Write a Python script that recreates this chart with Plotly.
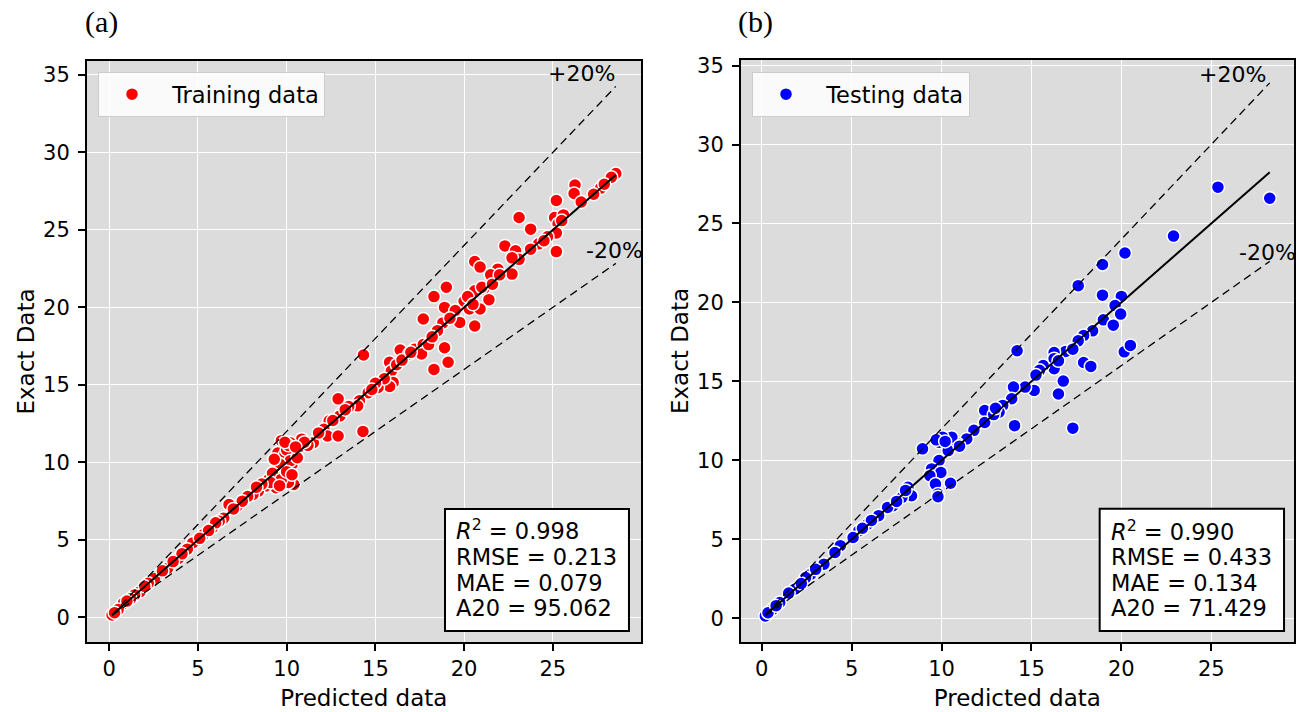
import plotly.graph_objects as go

# ---------------- data ----------------
train_pred = [28.55, 28.3, 27.7, 27.9, 26.25, 26.2, 25.2, 25.1, 25.6, 25.3, 25.2, 25.2, 23.1, 23.75,
              24.7, 24.2, 23.75, 22.3, 22.9, 23.1, 22.7, 22.7, 21.9, 21.5, 20.6, 20.9, 19.0, 18.3,
              20.0, 20.3, 20.6, 21.1, 21.4, 20.9, 17.7, 18.9, 19.45, 19.75, 20.6, 18.8, 18.5, 18.9,
              16.4, 17.2, 17.7, 14.33, 16.9, 17.6, 18.0, 18.3, 19.1, 15.8, 15.9, 16.0, 15.8, 15.15,
              14.6, 14.1, 14.0, 12.9, 13.1, 13.0, 12.4, 12.1, 12.3, 12.9, 14.3, 11.5, 10.85, 10.65,
              10.2, 9.7, 9.5, 9.9, 10.4, 10.3, 9.8, 9.4, 9.8, 10.4, 10.1, 9.4, 9.0, 8.8, 8.4, 8.1,
              7.8, 7.2, 6.75, 6.45, 5.8, 5.3, 4.9, 4.7, 3.9, 3.3, 2.66, 2.55, 1.74, 1.43, 0.8, 0.16,
              19.5, 19.2, 20.2, 20.5, 16.2, 16.5, 15.5, 15.0, 14.8, 13.5, 13.3, 11.8, 11.2, 11.0,
              10.0, 10.2, 9.6, 9.2, 9.7, 10.0, 9.1, 8.6, 8.3, 7.5, 7.0, 6.2, 6.0, 5.6, 5.1, 4.4,
              4.1, 3.6, 3.0, 2.2, 2.0, 1.2, 1.0, 0.5, 0.3, 17.0, 18.2, 21.0, 21.6, 22.0, 24.5, 25.5,
              26.6, 27.3, 12.6, 10.6, 9.3, 10.1, 9.9, 10.5, 9.6, 10.3]
train_exact = [28.64, 28.4, 27.7, 27.95, 27.9, 27.35, 26.9, 25.8, 25.97, 25.4, 24.8, 23.6, 25.8, 25.05,
               24.56, 24.1, 23.76, 23.97, 23.65, 23.1, 23.2, 22.15, 22.47, 22.1, 22.96, 22.6, 21.3, 20.7,
               20.4, 19.9, 21.07, 21.2, 20.5, 19.9, 19.25, 20.0, 19.56, 19.03, 18.8, 19.0, 18.5, 17.4,
               17.25, 17.3, 17.6, 16.93, 17.0, 17.0, 17.6, 16.0, 16.46, 16.46, 15.9, 15.16, 14.9, 14.84,
               14.5, 13.97, 13.65, 14.1, 13.2, 13.0, 12.68, 12.14, 11.7, 11.7, 12.0, 11.27, 11.5, 10.95,
               11.27, 11.4, 10.6, 10.5, 10.4, 9.87, 9.76, 9.44, 9.1, 8.57, 8.7, 8.36, 8.9, 8.47, 8.14, 7.93,
               7.8, 7.17, 7.28, 6.4, 5.77, 5.33, 4.9, 4.8, 3.8, 3.17, 2.63, 2.5, 1.66, 1.45, 0.9, 0.15,
               19.8, 19.3, 20.7, 20.2, 16.3, 16.6, 15.4, 15.1, 14.7, 13.6, 13.4, 11.9, 11.1, 11.3,
               10.8, 10.1, 9.9, 9.3, 8.9, 9.4, 8.7, 8.6, 8.4, 7.5, 7.0, 6.2, 6.1, 5.6, 5.1, 4.4,
               4.1, 3.6, 3.0, 2.2, 2.0, 1.2, 1.05, 0.5, 0.3, 17.1, 18.1, 21.3, 21.5, 22.1, 24.3, 25.6,
               26.8, 27.3, 12.7, 10.3, 10.2, 11.1, 11.3, 11.0, 8.5, 9.2]

test_pred = [28.25, 25.37, 22.9, 20.2, 18.95, 17.6, 18.95, 20.0, 19.65, 19.96, 19.0, 19.55, 18.4, 17.9,
             17.6, 16.9, 17.3, 16.26, 14.2, 20.16, 20.5, 17.9, 18.3, 16.26, 16.26, 16.77, 16.5, 17.3,
             15.65, 15.45, 15.25, 15.15, 14.65, 14.0, 13.9, 13.4, 13.2, 12.4, 12.4, 11.8, 14.06, 11.4,
             10.9, 10.57, 10.06, 9.86, 8.94, 10.37, 9.86, 9.45, 9.96, 9.35, 9.66, 10.5, 9.8, 8.13,
             8.33, 7.8, 7.3, 7.0, 6.5, 5.9, 5.4, 5.08, 4.37, 4.07, 3.46, 2.74, 2.44, 1.83, 1.0, 0.6,
             0.2, 9.8, 9.7, 10.2, 12.9, 13.0, 11.0, 8.0, 7.5, 6.1, 5.6, 3.0, 2.2, 1.5, 0.35, 0.8, 16.5]
test_exact = [26.6, 27.3, 24.2, 23.13, 22.4, 21.06, 20.46, 20.38, 19.8, 19.26, 18.9, 18.56, 18.2, 17.9,
              17.57, 16.9, 17.04, 16.83, 16.94, 16.87, 17.28, 16.2, 15.95, 16.44, 15.8, 15.02, 14.2, 12.04,
              16.0, 15.7, 15.4, 14.43, 14.64, 14.64, 13.9, 13.48, 13.05, 13.16, 12.4, 11.9, 12.2, 11.36,
              11.04, 11.47, 11.47, 11.15, 10.73, 10.62, 9.99, 9.46, 9.24, 9.03, 8.5, 8.55, 7.87, 8.3,
              7.76, 7.66, 7.13, 7.02, 6.5, 5.97, 5.54, 5.12, 4.6, 4.17, 3.43, 2.8, 2.58, 1.84, 1.0, 0.57,
              0.15, 7.7, 11.3, 11.2, 12.9, 13.3, 10.9, 8.1, 7.4, 6.2, 5.7, 3.1, 2.2, 1.6, 0.35, 0.8, 16.3]

train_stats = ["<i>R</i><sup>2</sup> = 0.998", "RMSE = 0.213", "MAE = 0.079", "A20 = 95.062"]
test_stats = ["<i>R</i><sup>2</sup> = 0.990", "RMSE = 0.433", "MAE = 0.134", "A20 = 71.429"]
tick_vals_x = [0, 5, 10, 15, 20, 25]
tick_vals_y = [0, 5, 10, 15, 20, 25, 30, 35]

FONT = "DejaVu Sans"
W, H = 1308, 712

fig = go.Figure()


def add_panel(pred, exact, color, name, xa, ya, legend):
    fig.add_trace(go.Scatter(
        x=pred, y=exact, mode="markers", name="\u00a0" + name, legend=legend,
        marker=dict(color=color, size=13, line=dict(color="white", width=1.5)),
        xaxis=xa, yaxis=ya))
    lo, hi = min(pred), max(pred)
    fig.add_trace(go.Scatter(x=[lo, hi], y=[lo, hi], mode="lines", showlegend=False,
                             line=dict(color="black", width=2), xaxis=xa, yaxis=ya))
    fig.add_trace(go.Scatter(x=[lo, hi], y=[1.2 * lo, 1.2 * hi], mode="lines", showlegend=False,
                             line=dict(color="black", width=1.3, dash="8px,5px"), xaxis=xa, yaxis=ya))
    fig.add_trace(go.Scatter(x=[lo, hi], y=[0.8 * lo, 0.8 * hi], mode="lines", showlegend=False,
                             line=dict(color="black", width=1.3, dash="8px,5px"), xaxis=xa, yaxis=ya))


add_panel(train_pred, train_exact, "#ff0000", "Training data", "x", "y", "legend")
add_panel(test_pred, test_exact, "#0000ff", "Testing data", "x2", "y2", "legend2")


def ax(domain, rng, ticks, title, standoff, anchor, lblgap):
    return dict(domain=domain, range=rng, tickvals=ticks, anchor=anchor, showgrid=True,
                gridcolor="white", gridwidth=1, zeroline=False, showline=True, linecolor="black",
                linewidth=1.5, mirror=True, ticks="outside", ticklen=7, tickwidth=1.5,
                tickcolor="black", tickfont=dict(family=FONT, size=21, color="black"),
                ticklabelstandoff=lblgap,
                title=dict(text=title, font=dict(family=FONT, size=23, color="black"), standoff=standoff),
                automargin=False)


fig.update_layout(
    width=W, height=H, margin=dict(l=0, r=0, t=0, b=0),
    paper_bgcolor="white", plot_bgcolor="#dcdcdc",
    xaxis=ax([86.7 / W, 641 / W], [-1.27, 29.97], tick_vals_x, "Predicted data", 10, "y", 0),
    yaxis=ax([1 - 642 / H, 1 - 61 / H], [-1.59, 35.9], tick_vals_y, "Exact Data", 2, "x", 4),
    xaxis2=ax([740.7 / W, 1294 / W], [-1.17, 29.6], tick_vals_x, "Predicted data", 10, "y2", 0),
    yaxis2=ax([1 - 642 / H, 1 - 60 / H], [-1.5, 35.35], tick_vals_y, "Exact Data", 2, "x2", 4),
    showlegend=True,
)
for key, lx in (("legend", 98), ("legend2", 752)):
    fig.update_layout({key: dict(x=lx / W, y=1 - 72 / H, xanchor="left", yanchor="top",
                                 bgcolor="rgba(255,255,255,0.85)", bordercolor="#cccccc", borderwidth=1,
                                 font=dict(family=FONT, size=22.5, color="black"), itemwidth=56)})

annotations = []
shapes = []
panels = (("x", "y", train_stats, "(a)", 83, 0.6464, 0.9783, 0.6635,
           [0.1928, 0.1468, 0.101, 0.058]),
          ("x2", "y2", test_stats, "(b)", 736, 0.6488, 0.982, 0.6665,
           [0.1924, 0.1466, 0.1008, 0.058]))
for xr, yr, stats, lbl, lbl_x, bx0, bx1, tx, lys in panels:
    shapes.append(dict(type="rect", xref=xr + " domain", yref=yr + " domain", x0=bx0, x1=bx1,
                       y0=0.0189, y1=0.2288, fillcolor="white", line=dict(color="black", width=2),
                       layer="above"))
    for s, ly in zip(stats, lys):
        annotations.append(dict(xref=xr + " domain", yref=yr + " domain", x=tx, y=ly,
                                xanchor="left", yanchor="middle", text=s, showarrow=False,
                                font=dict(family=FONT, size=22.5, color="black")))
    annotations.append(dict(xref="paper", yref="paper", x=lbl_x / W, y=1 - 22 / H, xanchor="left",
                            yanchor="middle", text=lbl, showarrow=False,
                            font=dict(family="Liberation Serif", size=30, color="black")))
annotations += [
    dict(xref="x", yref="y", x=26.6, y=35.1, text="+20%", showarrow=False,
         font=dict(family=FONT, size=22, color="black")),
    dict(xref="x", yref="y", x=28.5, y=23.65, text="-20%", showarrow=False,
         font=dict(family=FONT, size=22, color="black")),
    dict(xref="x2", yref="y2", x=26.2, y=34.43, text="+20%", showarrow=False,
         font=dict(family=FONT, size=22, color="black")),
    dict(xref="x2", yref="y2", x=28.15, y=23.17, text="-20%", showarrow=False,
         font=dict(family=FONT, size=22, color="black")),
]
fig.update_layout(annotations=annotations, shapes=shapes)

fig.write_html("out.html", config={"displayModeBar": False},
               post_script="document.body.style.margin='0';document.body.style.overflow='hidden';")
